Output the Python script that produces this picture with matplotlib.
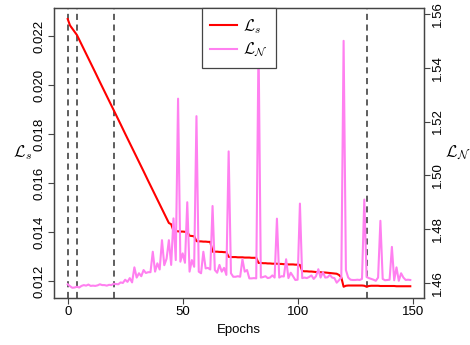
import numpy as np
import matplotlib
matplotlib.use('Agg')
import matplotlib.pyplot as plt

plt.rcParams['font.family'] = ['Liberation Sans', 'DejaVu Sans']
plt.rcParams['mathtext.fontset'] = 'cm'

# epochs 0..149
epochs = np.arange(150)

loss_s = [
    0.02269, 0.02243, 0.02230, 0.02217, 0.02204, 0.02185, 0.02166, 0.02146, 0.02127, 0.02108,
    0.02089, 0.02070, 0.02051, 0.02031, 0.02012, 0.01993, 0.01974, 0.01955, 0.01935, 0.01916,
    0.01897, 0.01878, 0.01859, 0.01840, 0.01820, 0.01801, 0.01782, 0.01763, 0.01744, 0.01724,
    0.01705, 0.01686, 0.01667, 0.01648, 0.01628, 0.01609, 0.01590, 0.01571, 0.01552, 0.01533,
    0.01513, 0.01494, 0.01475, 0.01456, 0.01437, 0.01432, 0.01405, 0.01404, 0.01403, 0.01402,
    0.01402, 0.01401, 0.01400, 0.01385, 0.01384, 0.01383, 0.01363, 0.01362, 0.01362, 0.01361,
    0.01361, 0.01360, 0.01360, 0.01320, 0.01320, 0.01320, 0.01319, 0.01319, 0.01318, 0.01318,
    0.01299, 0.01298, 0.01298, 0.01298, 0.01297, 0.01297, 0.01297, 0.01296, 0.01296, 0.01296,
    0.01295, 0.01295, 0.01295, 0.01274, 0.01274, 0.01273, 0.01273, 0.01272, 0.01272, 0.01271,
    0.01271, 0.01271, 0.01270, 0.01270, 0.01269, 0.01269, 0.01268, 0.01268, 0.01268, 0.01267,
    0.01267, 0.01266, 0.01241, 0.01240, 0.01240, 0.01239, 0.01239, 0.01238, 0.01237, 0.01237,
    0.01236, 0.01235, 0.01235, 0.01234, 0.01233, 0.01232, 0.01231, 0.01230, 0.01225, 0.01215,
    0.01177, 0.01181, 0.01182, 0.01182, 0.01182, 0.01182, 0.01182, 0.01182, 0.01182, 0.01181,
    0.01177, 0.01180, 0.01181, 0.01181, 0.01181, 0.01181, 0.01180, 0.01180, 0.01180, 0.01180,
    0.01180, 0.01180, 0.01180, 0.01179, 0.01179, 0.01179, 0.01179, 0.01179, 0.01179, 0.01179,
]

loss_n = [
    1.4595, 1.4588, 1.4582, 1.4583, 1.4586, 1.4583, 1.4589, 1.4592, 1.4590, 1.4594,
    1.4589, 1.4590, 1.4589, 1.4591, 1.4595, 1.4592, 1.4592, 1.4590, 1.4593, 1.4592,
    1.4597, 1.4596, 1.4595, 1.4602, 1.4600, 1.4612, 1.4604, 1.4618, 1.4602, 1.4658,
    1.4620, 1.4636, 1.4625, 1.4648, 1.4637, 1.4640, 1.4640, 1.4716, 1.4642, 1.4673,
    1.4650, 1.4759, 1.4666, 1.4690, 1.4759, 1.4667, 1.4840, 1.4685, 1.5285, 1.4679,
    1.4710, 1.4675, 1.4900, 1.4642, 1.4685, 1.4660, 1.5220, 1.4642, 1.4636, 1.4716,
    1.4654, 1.4656, 1.4650, 1.4886, 1.4648, 1.4638, 1.4667, 1.4642, 1.4656, 1.4630,
    1.5089, 1.4636, 1.4623, 1.4623, 1.4625, 1.4623, 1.4688, 1.4642, 1.4648, 1.4617,
    1.4617, 1.4618, 1.4617, 1.5496, 1.4620, 1.4622, 1.4625, 1.4618, 1.4620, 1.4628,
    1.4620, 1.4839, 1.4620, 1.4625, 1.4624, 1.4688, 1.4618, 1.4638, 1.4625, 1.4611,
    1.4612, 1.4895, 1.4618, 1.4620, 1.4618, 1.4622, 1.4628, 1.4615, 1.4625, 1.4651,
    1.4620, 1.4640, 1.4620, 1.4621, 1.4630, 1.4620, 1.4618, 1.4601, 1.4610, 1.4620,
    1.5500, 1.4648, 1.4620, 1.4612, 1.4611, 1.4611, 1.4612, 1.4611, 1.4615, 1.4910,
    1.4622, 1.4618, 1.4615, 1.4612, 1.4608, 1.4620, 1.4831, 1.4615, 1.4610, 1.4611,
    1.4612, 1.4734, 1.4610, 1.4658, 1.4608, 1.4636, 1.4620, 1.4611, 1.4612, 1.4611,
]

stage_epochs = [0, 4, 20, 130]

red = '#FF0000'
pink = '#FF80F0'
frame = '#444444'

fig = plt.figure(figsize=(4.7, 3.45), dpi=100)
ax = fig.add_axes([0.1149, 0.1362, 0.7872, 0.8406])
ax2 = ax.twinx()

for e in stage_epochs:
    ax.axvline(e, color='#333333', lw=1.1, ls=(0, (4, 3)), zorder=1)

l1, = ax.plot(epochs, loss_s, color=red, lw=1.5, zorder=3)
l2, = ax2.plot(epochs, loss_n, color=pink, lw=1.5)

ax.set_xlim(-5.96, 154.96)
ax.set_ylim(0.01131, 0.02314)
ax2.set_ylim(1.4544, 1.5622)

ax.set_xticks([0, 50, 100, 150])
ax.set_yticks([0.012, 0.014, 0.016, 0.018, 0.020, 0.022])
ax.set_yticklabels(['0.012', '0.014', '0.016', '0.018', '0.020', '0.022'],
                   rotation=90, va='center')
ax2.set_yticks([1.46, 1.48, 1.50, 1.52, 1.54, 1.56])
ax2.set_yticklabels(['1.46', '1.48', '1.50', '1.52', '1.54', '1.56'],
                    rotation=90, va='center')

for a in (ax, ax2):
    a.tick_params(labelsize=9.5, length=4, width=0.8, color=frame, pad=2)
    for s in a.spines.values():
        s.set_color(frame)
        s.set_linewidth(0.9)

ax.set_xlabel('Epochs', fontsize=9.5, labelpad=4)
ax.set_ylabel(r'$\mathcal{L}_s$', fontsize=12, rotation=0, labelpad=8, va='center')
ax2.set_ylabel(r'$\mathcal{L}_\mathcal{N}$', fontsize=12, rotation=0, labelpad=10, va='center')

leg = ax2.legend([l1, l2], [r'$\mathcal{L}_s$', r'$\mathcal{L}_\mathcal{N}$'],
                 loc='upper center', fontsize=11.5, frameon=True, fancybox=False,
                 framealpha=1, edgecolor=frame, borderaxespad=0,
                 handlelength=1.7, handletextpad=0.35, labelspacing=0.35,
                 borderpad=0.55)
leg.get_frame().set_linewidth(0.9)

fig.savefig('out.png', dpi=100)
